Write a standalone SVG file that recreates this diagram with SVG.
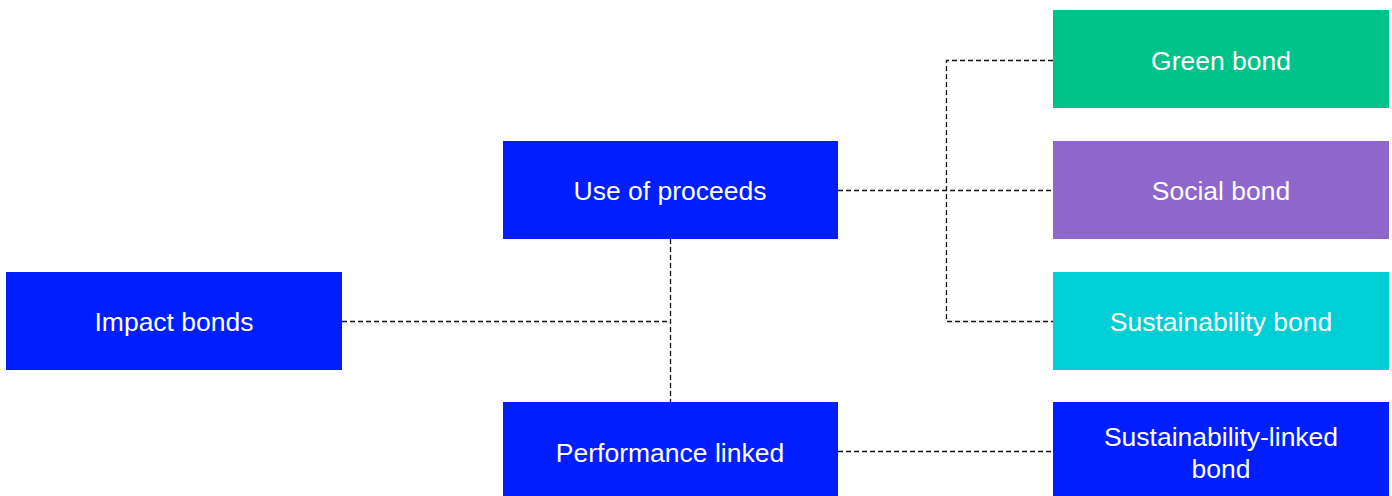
<svg xmlns="http://www.w3.org/2000/svg" width="1392" height="496" viewBox="0 0 1392 496">
<style>
.t{font-family:"Liberation Sans",Arial,sans-serif;font-size:26.5px;fill:#ffffff;text-anchor:middle;dominant-baseline:central}
.c{fill:none;stroke:#111111;stroke-width:1.3;stroke-dasharray:5 3}
</style>
<rect width="1392" height="496" fill="#ffffff"/>
<g id="connectors">
<path class="c" d="M342 321.5H670.5"/>
<path class="c" d="M670.5 239V402"/>
<path class="c" d="M838 190.5H1053"/>
<path class="c" d="M1053 60.5H946.5V321.5H1053"/>
<path class="c" d="M838 451.5H1053"/>
</g>
<g id="impact"><rect x="6" y="272" width="336" height="98" fill="#001EFF"/><text class="t" x="174" y="322">Impact bonds</text></g>
<g id="useofproceeds"><rect x="503" y="141" width="335" height="98" fill="#001EFF"/><text class="t" x="670" y="191">Use of proceeds</text></g>
<g id="performance"><rect x="503" y="402" width="335" height="98" fill="#001EFF"/><text class="t" x="670" y="453">Performance linked</text></g>
<g id="green"><rect x="1053" y="10" width="336" height="98" fill="#00C389"/><text class="t" x="1221" y="61">Green bond</text></g>
<g id="social"><rect x="1053" y="141" width="336" height="98" fill="#8F66CC"/><text class="t" x="1221" y="191">Social bond</text></g>
<g id="sustainability"><rect x="1053" y="272" width="336" height="98" fill="#00CFD6"/><text class="t" x="1221" y="322">Sustainability bond</text></g>
<g id="slb"><rect x="1053" y="402" width="336" height="98" fill="#001EFF"/><text class="t" x="1221" y="437">Sustainability-linked</text><text class="t" x="1221" y="469">bond</text></g>
</svg>
